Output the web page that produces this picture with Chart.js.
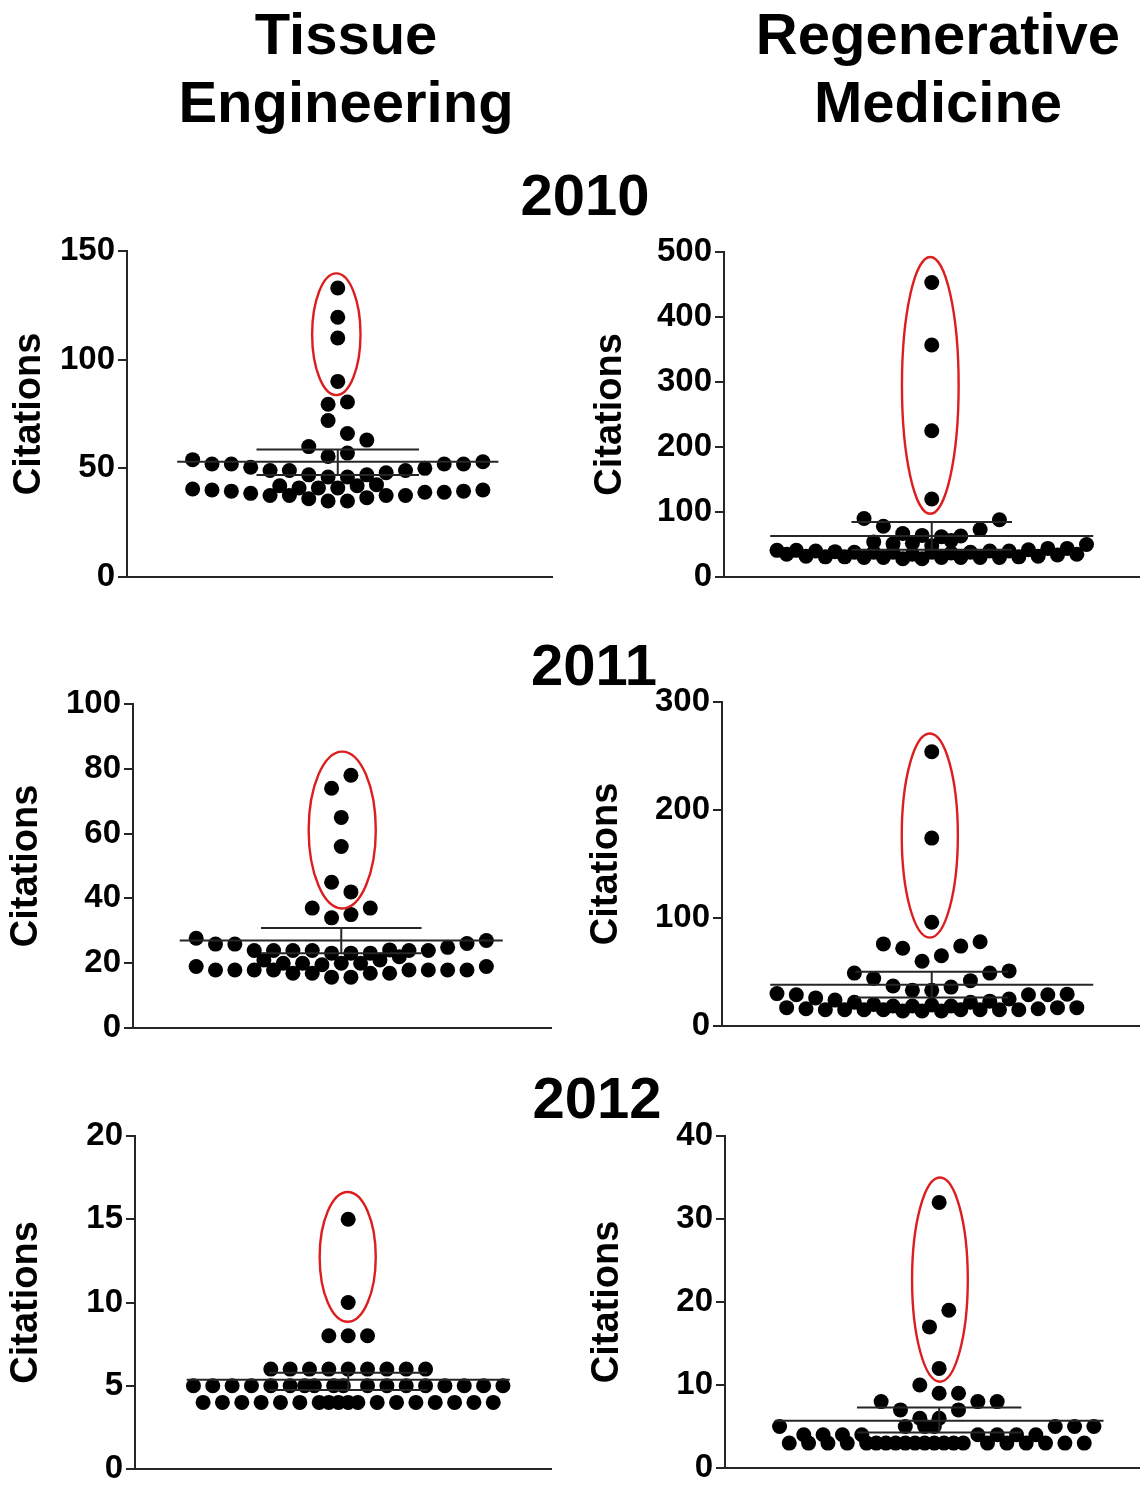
<!DOCTYPE html>
<html>
<head>
<meta charset="utf-8">
<title>Citations</title>
<script src="https://cdn.jsdelivr.net/npm/chart.js@4.4.1/dist/chart.umd.min.js"></script>
<style>
  html, body { margin: 0; padding: 0; background: #fff; overflow: hidden; }
  body { width: 1148px; height: 1485px; position: relative; font-family: "Liberation Sans", Arial, sans-serif; }
  .head { position: absolute; font-weight: bold; font-size: 58px; line-height: 68px; text-align: center; color: #000; white-space: nowrap; }
  canvas { position: absolute; }
</style>
</head>
<body>
<script>
// Labels
const fields = ['Tissue<br>Engineering', 'Regenerative<br>Medicine'];
const years = ['2010', '2011', '2012'];
const axisTitle = 'Citations';

// y axis ranges, panel order: TE 2010, RM 2010, TE 2011, RM 2011, TE 2012, RM 2012
const yMax = [150, 500, 100, 300, 20, 40];
const yStep = [50, 100, 20, 100, 5, 10];

// Dots: swarm offset (column) and citation count
const te10X = [0, 0, 0, 0, 1, -1, -1, 1, 3, -3, 1, -1,
  -15, -13, -11, -9, -7, -5, -3, -1, 1, 3, 5, 7, 9, 11, 13, 15,
  -6, -4, -2, 0, 2, 4,
  -15, -13, -11, -9, -7, -5, -3, -1, 1, 3, 5, 7, 9, 11, 13, 15];
const te10Y = [133, 119.5, 110, 90, 80.5, 79.5, 72, 66, 63, 60, 57, 55.5,
  54, 52, 52, 50.5, 49, 49, 47, 46, 46, 47, 48, 49, 50, 52, 52, 53,
  42, 41, 41, 41, 42, 42.5,
  40.5, 40, 39.5, 38.5, 37.5, 37.5, 36, 35, 35, 36.5, 37.5, 37.5, 39, 39, 39.5, 40];

const rm10X = [0, 0, 0, 0, -7, 7, -5, 5, -3, -1, 1, 3, -6, -4, 2, -2, 0,
  -16, -15, -14, -13, -12, -11, -10, -9, -8, -7, -6, -5, -4, -3, -2, -1, 0,
  1, 2, 3, 4, 5, 6, 7, 8, 9, 10, 11, 12, 13, 14, 15, 16];
const rm10Y = [453, 357, 225, 120, 90, 88, 78, 73, 67, 64, 62, 63, 54, 51, 56, 52, 48,
  41, 35, 41, 32, 40, 31, 39, 31, 38, 30, 38, 30, 38, 28, 35, 28, 38,
  30, 37, 30, 38, 30, 40, 30, 40, 31, 42, 32, 44, 34, 44, 35, 50];

const te11X = [1, -1, 0, 0, -1, 1, -3, -1, 1, 3,
  -15, -13, -11, -9, -7, -5, -3, -1, 1, 3, 5, 7, 9, 11, 13, 15,
  -8, -6, -4, -2, 0, 2, 4, 6,
  -15, -13, -11, -9, -7, -5, -3, -1, 1, 3, 5, 7, 9, 11, 13, 15];
const te11Y = [78, 74, 65, 56, 45, 42, 37, 34, 35, 37,
  27.7, 25.9, 25.9, 23.9, 23.9, 23.9, 23.9, 23.1, 23.1, 23.1, 24.1, 23.9, 23.9, 24.9, 26.1, 27,
  21, 20, 20, 19.5, 20, 20, 21, 22,
  19, 17.9, 17.9, 17.9, 17.9, 16.9, 16.9, 15.7, 15.7, 16.9, 16.9, 17.9, 17.9, 17.9, 17.9, 19];

const rm11X = [0, 0, 0, -5, -3, -1, 1, 3, 5, -8, -6, -4, -2, 0, 2, 4, 6, 8,
  -16, -15, -14, -13, -12, -11, -10, -9, -8, -7, -6, -5, -4, -3, -2, -1,
  0, 1, 2, 3, 4, 5, 6, 7, 8, 9, 10, 11, 12, 13, 14, 15];
const rm11Y = [254, 174, 96, 76, 72, 60, 65, 74, 78, 49, 44, 37, 33, 33, 36, 42, 49, 51,
  30, 17, 29, 16, 26, 15, 24, 15, 22, 15, 20, 15, 18.5, 14, 18.5, 14,
  19.5, 14, 18.5, 15, 22, 15, 23, 15, 25, 15, 29, 16, 29, 17, 29.5, 17];

const te12X = [0, 0, -2, 0, 2, -8, -6, -4, -2, 0, 2, 4, 6, 8,
  -16, -14, -12, -10, -8, -6, -4.5, -3.5, -1.5, -0.5, 2, 4, 6, 8, 10, 12, 14, 16,
  -15, -13, -11, -9, -7, -5, -3, -2, -1, 0, 1, 3, 5, 7, 9, 11, 13, 15];
const te12Y = [15, 10, 8, 8, 8, 6, 6, 6, 6, 6, 6, 6, 6, 6,
  5, 5, 5, 5, 5, 5, 5, 5, 5, 5, 5, 5, 5, 5, 5, 5, 5, 5,
  4, 4, 4, 4, 4, 4, 4, 4, 4, 4, 4, 4, 4, 4, 4, 4, 4, 4];

const rm12X = [0, 1, -1, 0, -2, 0, 2, -6, 4, 6, -4, 2, -2, 0, -3.5, -1.5, -0.5,
  -16.5, 12, 14, 16, -14, -12, -10, -8, 4, 6, 8, 10,
  -15.5, -13.5, -11.5, -9.5, -7.5, -6.5, -5.5, -4.5, -3.5, -2.5, -1.5, -0.5, 0.5, 1.5, 2.5,
  5, 7, 9, 11, 13, 15];
const rm12Y = [32, 19, 17, 12, 10, 9, 9, 8, 8, 8, 7, 7, 6, 6, 5, 5, 5,
  5, 5, 5, 5, 4, 4, 4, 4, 4, 4, 4, 4,
  3, 3, 3, 3, 3, 3, 3, 3, 3, 3, 3, 3, 3, 3, 3,
  3, 3, 3, 3, 3, 3];

// Mean and error bars (value) with their half widths (swarm columns)
const means = [53, 63.2, 27, 38.2, 5.36, 5.68];
const upper = [58.7, 84.6, 30.9, 50.2, 5.78, 7.28];
const lower = [46.9, 41.8, 23.1, 26.5, 4.74, 4.28];
const meanHalf = [16.6, 16.7, 16.7, 16.7, 16.7, 17];
const barHalf = [8.4, 8.3, 8.3, 7.9, 8.2, 8.5];

// Red rings around the outliers: centre (column, value) and radii
const ringX = [-0.15, -0.15, 0.1, -0.2, -0.05, 0.08];
const ringY = [111.7, 294.8, 61.1, 176.3, 12.74, 22.7];
const ringRX = [2.5, 2.93, 3.47, 2.9, 2.9, 2.88];
const ringRY = [28, 197.5, 24.2, 94.5, 3.9, 12.3];

const dotsX = [te10X, rm10X, te11X, rm11X, te12X, rm12X];
const dotsY = [te10Y, rm10Y, te11Y, rm11Y, te12Y, rm12Y];

// page layout of each panel (pixels)
const boxes = [
  { cite: 30, axis: 127, right: 558, top: 251, bottom: 577, center: 340.5 },
  { cite: 611, axis: 724, right: 1145, top: 252, bottom: 577, center: 934.5 },
  { cite: 26.5, axis: 133, right: 557, top: 703.5, bottom: 1028, center: 344 },
  { cite: 606.5, axis: 722, right: 1145, top: 702, bottom: 1026, center: 934.5 },
  { cite: 27, axis: 135, right: 557, top: 1136, bottom: 1469, center: 351 },
  { cite: 608, axis: 725, right: 1145, top: 1136, bottom: 1468, center: 942 }
];
const unitPx = 9.8;
const PAD = 26;
const fieldX = [346, 938];
const yearPos = [{ x: 585, top: 161 }, { x: 594, top: 631 }, { x: 597, top: 1064 }];

const FONT = '"Liberation Sans", Arial, sans-serif';
const INK = '#262626';

// headings
fields.forEach(function(f, i) {
    const d = document.createElement('div');
    d.className = 'head';
    d.innerHTML = f;
    d.style.left = (fieldX[i] - 250) + 'px';
    d.style.top = '0px';
    d.style.width = '500px';
    document.body.appendChild(d);
});
years.forEach(function(y, i) {
    const d = document.createElement('div');
    d.className = 'head';
    d.textContent = y;
    d.style.left = (yearPos[i].x - 150) + 'px';
    d.style.top = yearPos[i].top + 'px';
    d.style.width = '300px';
    document.body.appendChild(d);
});

// red ring round the outliers
const ringPlugin = {
    id: 'ring',
    afterDatasetsDraw(chart, args, o) {
        const { ctx, scales: { x, y } } = chart;
        const px = x.getPixelForValue(o.cx);
        const py = y.getPixelForValue(o.cy);
        const rx = Math.abs(x.getPixelForValue(o.cx + o.rx) - px);
        const ry = Math.abs(y.getPixelForValue(o.cy + o.ry) - py);
        ctx.save();
        ctx.strokeStyle = '#dc1e1e';
        ctx.lineWidth = 2.4;
        ctx.beginPath();
        ctx.ellipse(px, py, rx, ry, 0, 0, Math.PI * 2);
        ctx.stroke();
        ctx.restore();
    }
};

function lineSet(points) {
    return {
        data: points,
        showLine: true,
        borderColor: INK,
        borderWidth: 2,
        pointRadius: 0,
        clip: false
    };
}

boxes.forEach(function(b, i) {
    const left = Math.round(b.cite - 27);
    const top = Math.round(b.top - PAD);
    const width = Math.round(b.right + 2 - left);
    const height = Math.round(b.bottom + PAD - top);
    const yW = b.axis - left;

    const canvas = document.createElement('canvas');
    canvas.width = width;
    canvas.height = height;
    canvas.style.left = left + 'px';
    canvas.style.top = top + 'px';
    canvas.style.width = width + 'px';
    canvas.style.height = height + 'px';
    document.body.appendChild(canvas);

    const dots = dotsX[i].map(function(x, j) { return { x: x, y: dotsY[i][j] }; });
    const m = means[i], u = upper[i], l = lower[i], mh = meanHalf[i], bh = barHalf[i];

    new Chart(canvas, {
        type: 'scatter',
        data: {
            datasets: [
                lineSet([{ x: -mh, y: m }, { x: mh, y: m }]),
                lineSet([{ x: -bh, y: u }, { x: bh, y: u }]),
                lineSet([{ x: -bh, y: l }, { x: bh, y: l }]),
                lineSet([{ x: 0, y: l }, { x: 0, y: u }]),
                {
                    data: dots,
                    pointRadius: 7.5,
                    pointBorderWidth: 0,
                    pointBackgroundColor: '#000',
                    clip: false
                }
            ]
        },
        options: {
            responsive: false,
            animation: false,
            events: [],
            layout: { padding: { top: PAD, bottom: PAD, left: 0, right: 2 } },
            plugins: {
                legend: { display: false },
                tooltip: { enabled: false },
                ring: { cx: ringX[i], cy: ringY[i], rx: ringRX[i], ry: ringRY[i] }
            },
            scales: {
                x: {
                    type: 'linear',
                    min: (b.axis - b.center) / unitPx,
                    max: (b.right - b.center) / unitPx,
                    ticks: { display: false },
                    grid: { display: false, drawTicks: false },
                    border: { display: true, color: INK, width: 2 }
                },
                y: {
                    type: 'linear',
                    min: 0,
                    max: yMax[i],
                    ticks: {
                        stepSize: yStep[i],
                        color: '#000',
                        padding: 3,
                        font: { family: FONT, size: 33, weight: 'bold', lineHeight: 1.1 }
                    },
                    grid: { drawOnChartArea: false, drawTicks: true, tickLength: 9, color: INK, lineWidth: 2 },
                    border: { display: true, color: INK, width: 2 },
                    title: {
                        display: true,
                        text: axisTitle,
                        color: '#000',
                        padding: { top: 4, bottom: 0 },
                        font: { family: FONT, size: 38, weight: 'bold' }
                    },
                    afterFit: function(s) { s.width = yW; }
                }
            }
        },
        plugins: [ringPlugin]
    });
});
</script>
</body>
</html>
